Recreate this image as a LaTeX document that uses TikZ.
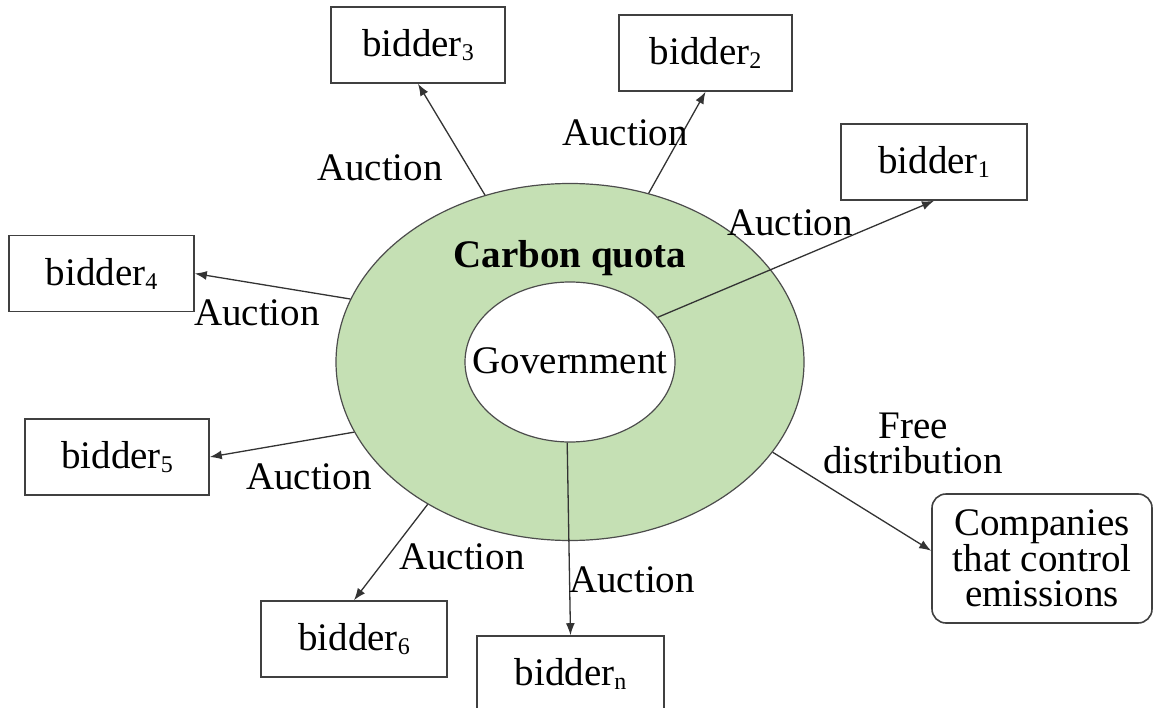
\documentclass[tikz,border=0pt]{standalone}
\usepackage{fontspec}
\setmainfont{Liberation Serif}
\usetikzlibrary{shapes.geometric,arrows.meta}
\definecolor{quotagreen}{RGB}{197,224,180}
% small lowered index after a bidder
\newcommand{\bidx}[1]{\raisebox{-4pt}{\fontsize{24}{24}\selectfont #1}}

\begin{document}
\begin{tikzpicture}[x=1pt,y=-1pt,
	every node/.style={font=\fontsize{39}{35}\selectfont},
	bidder/.style={draw=black!75,line width=1.6pt,minimum width=184pt,minimum height=76pt,inner sep=0pt},
	link/.style={draw=black!80,line width=1.3pt,-{Latex[length=12pt,width=9pt]}},
	lbl/.style={inner sep=0pt}]
\useasboundingbox (0,0) rectangle (1153,708);
% quota ring with the government in the middle
\node[ellipse,draw=black!70,line width=1.2pt,fill=quotagreen,minimum width=468pt,minimum height=357pt] (ring) at (570,362) {};
\node[ellipse,draw=black!70,line width=1.2pt,fill=white,minimum width=210pt,minimum height=160pt,inner sep=0pt] (gov) at (570,362) {};
\node[lbl] (govtext) at (570,361) {Government};
\node[font=\fontsize{39}{35}\selectfont\bfseries] (quota) at (570,258) {Carbon quota};
% bidders
\node[bidder,minimum width=174pt] (b3) at (418,45) {bidder\bidx{3}};
\node[bidder,minimum width=173pt] (b2) at (705.5,53) {bidder\bidx{2}};
\node[bidder,minimum width=186pt] (b1) at (934,162) {bidder\bidx{1}};
\node[bidder,minimum width=185pt] (b4) at (101.5,273.5) {bidder\bidx{4}};
\node[bidder] (b5) at (117,457) {bidder\bidx{5}};
\node[bidder,minimum width=186pt] (b6) at (354,639) {bidder\bidx{6}};
\node[bidder,minimum width=187pt] (bn) at (570.5,674) {bidder\bidx{n}};
\node[draw=black!75,line width=1.6pt,rounded corners=14pt,minimum width=220pt,minimum height=129pt,align=center,inner sep=0pt] (firms) at (1042,558.5) {Companies\\that control\\emissions};
% auctions and free allocation
\draw[link] (ring.117.9) -- (b3.south);
\draw[link] (ring.65.2) -- (b2.south);
\draw[link] (gov.27.6) -- (b1.south);
\draw[link] (ring.164.8) -- (b4.east);
\draw[link] (ring.198) -- (b5.east);
\draw[link] (ring.225) -- (b6.north);
\draw[link] (gov.268) -- (bn.north);
\draw[link] (ring.336) -- (firms.176);
\node[lbl] (a3) at (380,168) {Auction};
\node[lbl] (a2) at (625,133) {Auction};
\node[lbl] (a1) at (790,223) {Auction};
\node[lbl] (a4) at (257,313) {Auction};
\node[lbl] (a5) at (309,477) {Auction};
\node[lbl] (a6) at (462,557) {Auction};
\node[lbl] (an) at (632,580) {Auction};
\node[lbl,align=center] (free) at (913,443) {Free\\distribution};
\end{tikzpicture}
\end{document}
